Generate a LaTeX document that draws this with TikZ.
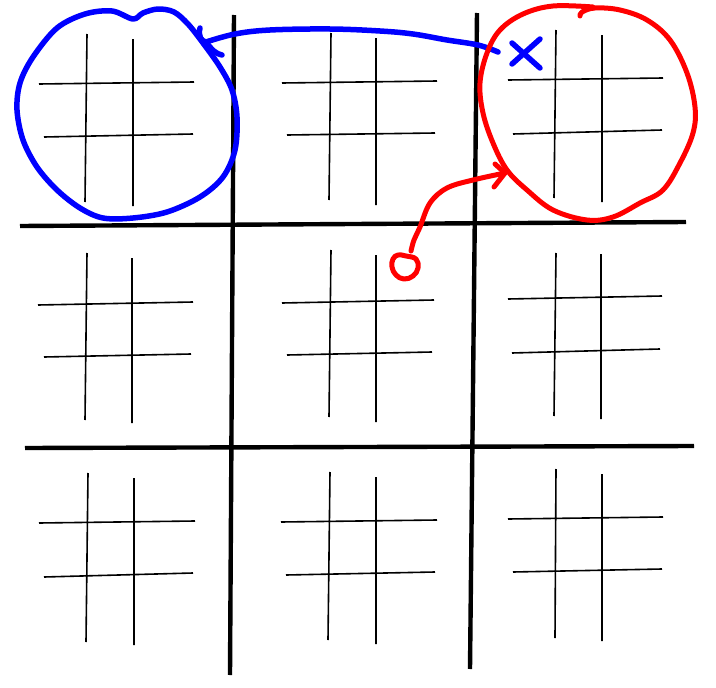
\documentclass[tikz,border=0pt]{standalone}
\begin{document}
\begin{tikzpicture}[x=1pt,y=-1pt,
  thingrid/.style={line width=1.6pt,black},
  bigline/.style={line width=4.4pt,black},
  bluepen/.style={draw={rgb,255:red,0;green,0;blue,255},line width=5.5pt,line cap=round,line join=round},
  redpen/.style={draw={rgb,255:red,255;green,0;blue,0},line width=5pt,line cap=round,line join=round}]
\useasboundingbox (0,0) rectangle (716,688);
\fill[white] (0,0) rectangle (716,688);
% big grid
\draw[bigline] (234,15) -- (230,675);
\draw[bigline] (477,13) -- (470,669);
\draw[bigline] (20,226) -- (686,222);
\draw[bigline] (25,448) -- (694,446);
% top row small grids
\draw[thingrid] (87,34)--(85,202) (133,39)--(133,206) (39,84)--(194,82) (44,137)--(193,134);
\draw[thingrid] (331,33)--(329,200) (376,38)--(376,205) (282,83)--(437,81) (287,135)--(435,133);
\draw[thingrid] (556,30)--(554,198) (602,35)--(602,202) (508,80)--(663,78) (513,134)--(662,130);
% middle row
\draw[thingrid] (87,253)--(85,420) (132,258)--(132,423) (38,305)--(193,302) (44,357)--(191,354);
\draw[thingrid] (331,250)--(329,417) (376,255)--(376,422) (282,303)--(434,300) (287,355)--(432,352);
\draw[thingrid] (556,253)--(554,416) (601,254)--(601,419) (508,299)--(662,296) (512,353)--(660,349);
% bottom row
\draw[thingrid] (88,473)--(86,642) (134,478)--(134,645) (39,523)--(195,521) (44,577)--(193,573);
\draw[thingrid] (330,472)--(328,640) (376,477)--(376,644) (281,522)--(437,520) (286,575)--(435,572);
\draw[thingrid] (556,469)--(555,638) (602,474)--(602,641) (508,519)--(663,517) (513,572)--(662,569);
% blue circle
\draw[bluepen] plot[smooth cycle,tension=0.55] coordinates {(133,19) (112,11) (85,14) (57,28) (33,57) (20,83) (17,110) (23,140) (37,167) (57,190) (80,208) (103,218) (133,218) (167,212) (200,197) (223,177) (235,150) (237,117) (232,90) (220,67) (203,43) (188,24) (174,12) (158,9) (143,13)};
% blue X
\coordinate (xc) at (526,53);
\draw[bluepen] (512,64) -- (540,39) (512,43) -- (540,68);
% blue arrow
\coordinate (btip) at (206,42);
\draw[bluepen] plot[smooth,tension=0.6] coordinates {(498,52) (478,45) (447,40) (413,34) (380,31) (330,29) (270,30) (235,34) (206,42)};
\draw[bluepen] (200,28) .. controls (198,36) and (201,41) .. (btip) .. controls (212,50) and (216,54) .. (222,55);
% red circle
\draw[redpen] plot[smooth,tension=0.6] coordinates {(593,7) (553,6) (523,14) (500,30) (487,53) (480,83) (483,113) (493,143) (507,170) (527,190) (553,210) (587,220) (613,217) (640,203) (663,190) (680,163) (693,133) (695,107) (687,73) (670,40) (647,20) (620,10) (595,8) (582,12) (580,16)};
% red small circle
\coordinate (rs) at (405,266);
\draw[redpen] plot[smooth cycle,tension=0.7] coordinates {(406,256) (398,255) (393,259) (392,267) (396,275) (404,279) (413,276) (418,268) (416,259)};
% red arrow
\coordinate (rtip) at (505,173);
\draw[redpen] plot[smooth,tension=0.6] coordinates {(411,251) (414,240) (420,227) (430,203) (447,188) (473,180) (505,173)};
\draw[redpen] (495,164) -- (rtip) -- (494,187);
\end{tikzpicture}
\end{document}
